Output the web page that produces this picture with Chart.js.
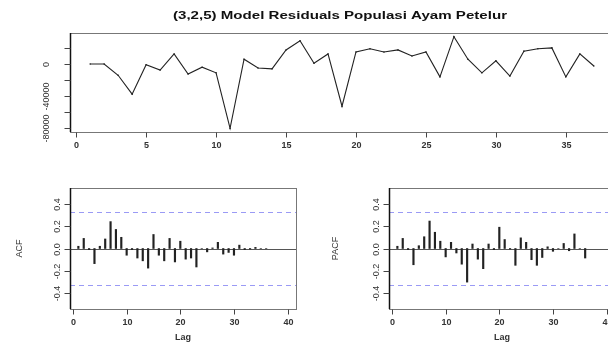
<!DOCTYPE html>
<html>
<head>
<meta charset="utf-8">
<script src="https://cdn.jsdelivr.net/npm/chart.js@4.4.1/dist/chart.umd.min.js"></script>
<style>
  html, body { margin: 0; padding: 0; background: #fff; overflow: hidden; width: 608px; height: 343px; }
  #wrap { position: relative; width: 608px; height: 343px; overflow: hidden; }
  canvas { position: absolute; }
</style>
</head>
<body>
<div id="wrap">
  <canvas id="resid" width="620" height="160" style="left:0;top:0;width:620px;height:160px"></canvas>
  <canvas id="acf" width="304" height="183" style="left:0;top:160px;width:304px;height:183px"></canvas>
  <canvas id="pacf" width="316" height="183" style="left:304px;top:160px;width:316px;height:183px"></canvas>
</div>
<script>
// data
const titleText = "(3,2,5) Model Residuals Populasi Ayam Petelur";
const timeIndex = [1,2,3,4,5,6,7,8,9,10,11,12,13,14,15,16,17,18,19,20,21,22,23,24,25,26,27,28,29,30,31,32,33,34,35,36,37];
const residuals = [0, 0, -14000, -37500, -1000, -7500, 12500, -12500, -4000, -11000, -80000, 6000, -5000, -6000,
  17500, 29000, 1000, 12500, -52500, 15000, 19000, 15000, 17500, 10000, 15000, -16000, 34000, 6000, -11000,
  4000, -15000, 16000, 19000, 20000, -16000, 12500, -2500];
const residXTicks = [0, 5, 10, 15, 20, 25, 30, 35];
const residYTicks = [-80000, -60000, -40000, -20000, 0, 20000];
const residYLabels = ["-80000", "", "-40000", "", "0", ""];

const lags = [1,2,3,4,5,6,7,8,9,10,11,12,13,14,15,16,17,18,19,20,21,22,23,24,25,26,27,28,29,30,31,32,33,34,35,36];
const acfValues = [0.02, 0.09, -0.01, -0.135, 0.02, 0.085, 0.24, 0.17, 0.10, -0.06, -0.01, -0.085, -0.11, -0.175,
  0.125, -0.06, -0.11, 0.09, -0.12, 0.065, -0.095, -0.085, -0.165, 0.0, -0.03, 0.005, 0.055, -0.05, -0.035,
  -0.06, 0.03, -0.01, -0.005, 0.01, 0, 0];
const pacfValues = [0.02, 0.09, -0.01, -0.145, 0.025, 0.105, 0.245, 0.145, 0.065, -0.075, 0.055, -0.04, -0.14, -0.30,
  0.04, -0.095, -0.18, 0.04, -0.01, 0.19, 0.08, -0.005, -0.15, 0.095, 0.055, -0.10, -0.15, -0.08, 0.015,
  -0.025, 0, 0.045, -0.02, 0.13, 0, -0.085];
const ciBound = 0.322;
const lagXTicks = [0, 10, 20, 30, 40];
const corYTicks = [-0.4, -0.2, 0.0, 0.2, 0.4];
const corYLabels = ["-0.4", "-0.2", "0.0", "0.2", "0.4"];

const FONT = "'Liberation Sans', Arial, sans-serif";
const TXT = "#333";

// draws an R-style frame, ticks and labels using the chart's scales
function rAxes(opts) {
  return {
    id: "rAxes",
    beforeDatasetsDraw(chart) {
      const { ctx, chartArea: a, scales } = chart;
      const y = scales.y;
      ctx.save();
      if (opts.hlines) {
        opts.hlines.forEach((h) => {
          ctx.beginPath();
          ctx.strokeStyle = h.color;
          ctx.lineWidth = 1;
          ctx.setLineDash(h.dash || []);
          const py = Math.round(y.getPixelForValue(h.v)) + 0.5;
          ctx.moveTo(a.left, py);
          ctx.lineTo(a.right, py);
          ctx.stroke();
        });
      }
      ctx.restore();
    },
    afterDraw(chart) {
      const { ctx, chartArea: a, scales } = chart;
      const x = scales.x, y = scales.y;
      ctx.save();
      ctx.setLineDash([]);
      // box
      ctx.strokeStyle = "#777";
      ctx.lineWidth = 1;
      ctx.strokeRect(Math.round(a.left) + 0.5, Math.round(a.top) + 0.5,
        Math.round(a.right - a.left), Math.round(a.bottom - a.top));
      // left axis line
      ctx.strokeStyle = "#111";
      ctx.lineWidth = 1.5;
      ctx.beginPath();
      ctx.moveTo(Math.round(a.left) + 0.5, a.top);
      ctx.lineTo(Math.round(a.left) + 0.5, a.bottom);
      ctx.stroke();
      // x ticks
      ctx.strokeStyle = "#444";
      ctx.lineWidth = 1;
      ctx.fillStyle = TXT;
      ctx.font = "bold 9px " + FONT;
      ctx.textAlign = "center";
      ctx.textBaseline = "middle";
      const bx = Math.round(a.bottom) + 0.5;
      opts.xTicks.forEach((t) => {
        const px = Math.round(x.getPixelForValue(t)) + 0.5;
        ctx.beginPath();
        ctx.moveTo(px, bx);
        ctx.lineTo(px, bx + 5);
        ctx.stroke();
        ctx.fillText(String(t), px, bx + opts.xLabelGap);
      });
      // y ticks
      const lx = Math.round(a.left) + 0.5;
      opts.yTicks.forEach((t, i) => {
        const py = Math.round(y.getPixelForValue(t)) + 0.5;
        ctx.beginPath();
        ctx.moveTo(lx, py);
        ctx.lineTo(lx - 6, py);
        ctx.stroke();
        const lab = opts.yLabels[i];
        if (lab) {
          ctx.save();
          ctx.translate(lx - opts.yLabelGap, py);
          ctx.rotate(-Math.PI / 2);
          ctx.font = "9px " + FONT;
          ctx.fillText(lab, 0, 0);
          ctx.restore();
        }
      });
      // axis titles
      ctx.font = "bold 9px " + FONT;
      if (opts.xTitle) {
        ctx.fillText(opts.xTitle, (a.left + opts.xTitleCenter), a.bottom + opts.xTitleGap);
      }
      if (opts.yTitle) {
        ctx.save();
        ctx.translate(opts.yTitleX, (a.top + a.bottom) / 2);
        ctx.rotate(-Math.PI / 2);
        ctx.font = "9px " + FONT;
        ctx.fillText(opts.yTitle, 0, 0);
        ctx.restore();
      }
      if (opts.title) {
        // the reference title is wide; stretch it to the same span
        ctx.font = "bold 11.5px " + FONT;
        ctx.fillStyle = "#111";
        const w = ctx.measureText(opts.title).width;
        const sx = opts.titleWidth / w;
        ctx.translate(opts.titleX, opts.titleY);
        ctx.scale(sx, 1);
        ctx.fillText(opts.title, 0, 0);
      }
      ctx.restore();
    }
  };
}

const hiddenScale = (min, max) => ({
  type: "linear", display: false, min, max, offset: false, grid: { offset: false }
});

// top: residual series
new Chart(document.getElementById("resid"), {
  type: "line",
  data: {
    datasets: [{
      data: timeIndex.map((t, i) => ({ x: t, y: residuals[i] })),
      borderColor: "#222",
      borderWidth: 1.1,
      pointRadius: 0.8,
      pointBackgroundColor: "#222",
      pointBorderWidth: 0,
      tension: 0
    }]
  },
  options: {
    responsive: false,
    animation: false,
    layout: { padding: { left: 70, top: 33, right: 6, bottom: 28 } },
    plugins: { legend: { display: false }, tooltip: { enabled: false } },
    scales: { x: hiddenScale(-0.44, 38.44), y: hiddenScale(-84560, 38560) }
  },
  plugins: [rAxes({
    xTicks: residXTicks, yTicks: residYTicks, yLabels: residYLabels,
    xLabelGap: 13, yLabelGap: 24,
    title: titleText, titleX: 340, titleY: 16, titleWidth: 334
  })]
});

function corChart(id, values, padLeft, padRight, yTitle, yTitleX) {
  return new Chart(document.getElementById(id), {
    type: "bar",
    data: {
      datasets: [{
        data: lags.map((l, i) => ({ x: l, y: values[i] })),
        backgroundColor: "#222",
        borderWidth: 0,
        barThickness: 1.5
      }]
    },
    options: {
      responsive: false,
      animation: false,
      layout: { padding: { left: padLeft, top: 28, right: padRight, bottom: 34 } },
      plugins: { legend: { display: false }, tooltip: { enabled: false } },
      scales: { x: hiddenScale(-0.56, 41.56), y: hiddenScale(-0.54, 0.54) }
    },
    plugins: [rAxes({
      xTicks: lagXTicks, yTicks: corYTicks, yLabels: corYLabels,
      xLabelGap: 13, yLabelGap: 13,
      hlines: [
        { v: 0, color: "#555" },
        { v: ciBound, color: "#9a9af5", dash: [5, 4] },
        { v: -ciBound, color: "#9a9af5", dash: [5, 4] }
      ],
      xTitle: "Lag", xTitleCenter: 113, xTitleGap: 29,
      yTitle: yTitle, yTitleX: yTitleX
    })]
  });
}

corChart("acf", acfValues, 70, 8, "ACF", 20);
corChart("pacf", pacfValues, 85, 5, "PACF", 32);
</script>
</body>
</html>
